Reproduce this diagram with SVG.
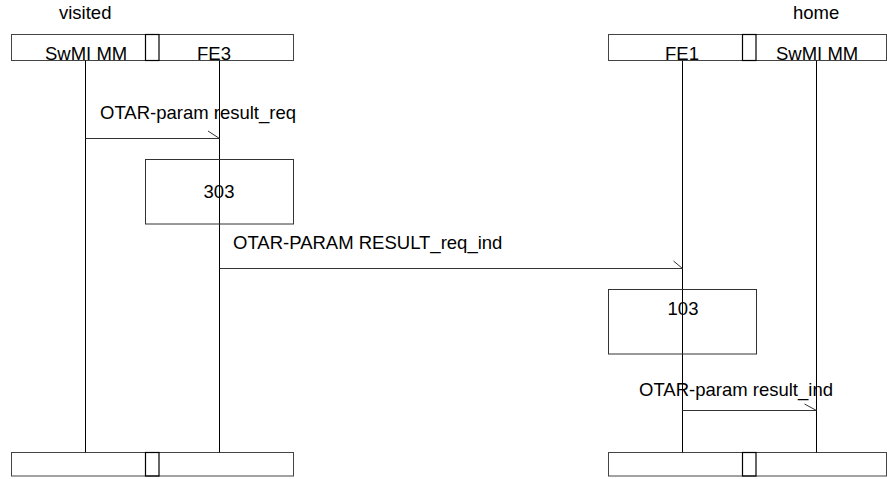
<svg xmlns="http://www.w3.org/2000/svg" width="887" height="479" viewBox="0 0 887 479">
<style>
text{font-family:"Liberation Sans",Arial,sans-serif;font-size:18.5px;fill:#000}
.box{fill:#fff;stroke:#444;stroke-width:1}
.div{fill:none;stroke:#000;stroke-width:1.2}
.life{stroke:#000;stroke-width:1;fill:none}
.msg{stroke:#333;stroke-width:1;fill:none}
.act{fill:none;stroke:#333;stroke-width:1}
</style>
<rect width="887" height="479" fill="#fff"/>
<g id="visited">
<text x="59" y="18.5">visited</text>
<rect class="box" x="11.5" y="34.5" width="282" height="26"/>
<rect class="div" x="145.5" y="34.5" width="13.5" height="26"/>
<text x="45" y="60">SwMI MM</text>
<text x="197" y="60">FE3</text>
<rect class="box" x="11.5" y="452.5" width="282" height="23.5"/>
<rect class="div" x="145.5" y="452.5" width="13.5" height="23.5"/>
</g>
<g id="home">
<text x="793" y="18.5">home</text>
<rect class="box" x="608.5" y="34.5" width="278" height="26"/>
<rect class="div" x="742.5" y="34.5" width="13.5" height="26"/>
<text x="665" y="60">FE1</text>
<text x="776" y="60">SwMI MM</text>
<rect class="box" x="608.5" y="452.5" width="278" height="23.5"/>
<rect class="div" x="742.5" y="452.5" width="13.5" height="23.5"/>
</g>
<g id="lifelines">
<line class="life" x1="85.5" y1="60.5" x2="85.5" y2="452.5"/>
<line class="life" x1="219.5" y1="60.5" x2="219.5" y2="452.5"/>
<line class="life" x1="682.5" y1="60.5" x2="682.5" y2="452.5"/>
<line class="life" x1="816.5" y1="60.5" x2="816.5" y2="452.5"/>
</g>
<g id="task303">
<rect class="act" x="145.5" y="159.5" width="148" height="64.5"/>
<text x="219" y="198" text-anchor="middle">303</text>
</g>
<g id="task103">
<rect class="act" x="608.5" y="289.5" width="148" height="64.5"/>
<text x="683" y="315" text-anchor="middle">103</text>
</g>
<g id="connectors">
<line class="msg" x1="85.5" y1="138.5" x2="219.5" y2="138.5"/>
<line class="msg" x1="208" y1="131" x2="219.5" y2="138.5"/>
<text x="100" y="119">OTAR-param result_req</text>
<line class="msg" x1="219.5" y1="268.5" x2="682.5" y2="268.5"/>
<line class="msg" x1="673.5" y1="261" x2="682.5" y2="268.5"/>
<text x="233" y="249">OTAR-PARAM RESULT_req_ind</text>
<line class="msg" x1="682.5" y1="410.5" x2="816.5" y2="410.5"/>
<line class="msg" x1="804.5" y1="404" x2="816.5" y2="410.5"/>
<text x="639" y="396">OTAR-param result_ind</text>
</g>
</svg>
